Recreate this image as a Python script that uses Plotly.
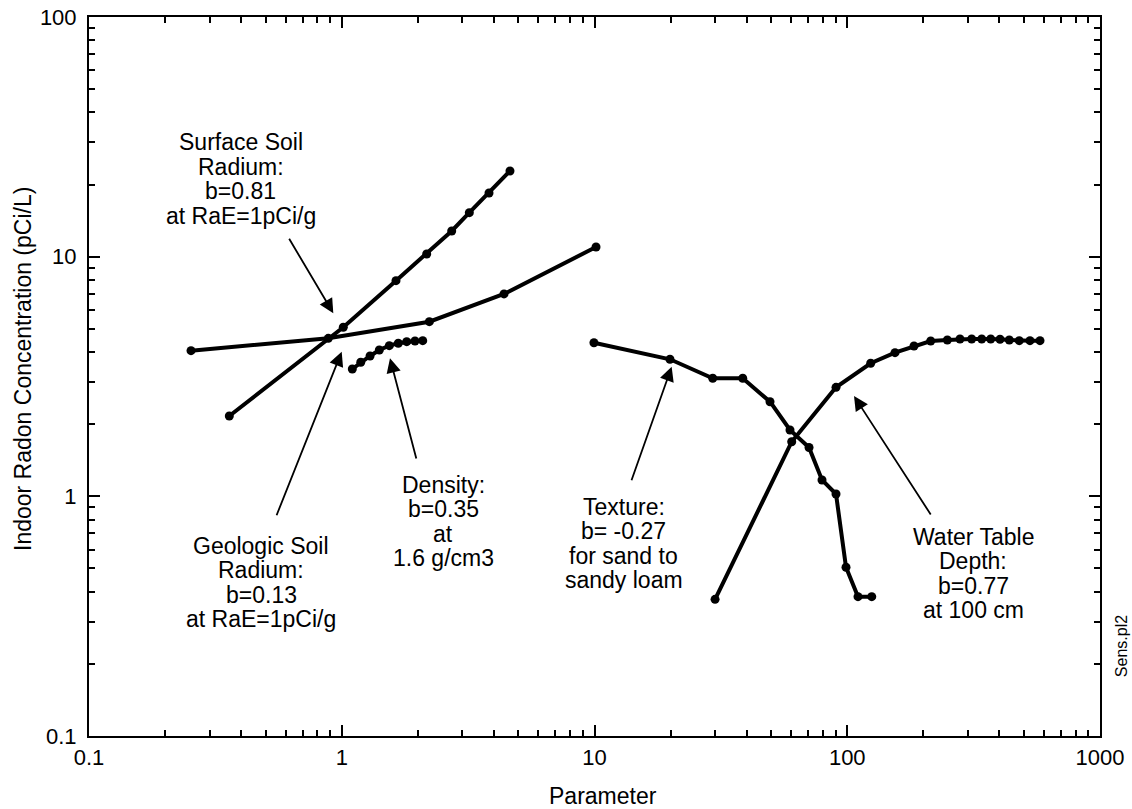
import plotly.graph_objects as go

# ---------------- data ----------------
surface_x = [0.359, 1.014, 1.639, 2.168, 2.723, 3.197, 3.825, 4.63]
surface_y = [2.164, 5.074, 7.94, 10.26, 12.80, 15.26, 18.44, 22.77]

geologic_x = [0.2533, 0.8847, 2.221, 4.385, 10.14]
geologic_y = [4.054, 4.564, 5.354, 6.99, 10.97]

density_x = [1.101, 1.189, 1.294, 1.408, 1.542, 1.674, 1.807, 1.949, 2.091]
density_y = [3.399, 3.625, 3.851, 4.080, 4.252, 4.351, 4.419, 4.448, 4.462]

texture_x = [9.95, 19.89, 29.36, 38.59, 49.48, 59.36, 70.59, 79.46, 90.27, 98.88, 110.3, 125.0]
texture_y = [4.375, 3.731, 3.108, 3.108, 2.482, 1.891, 1.599, 1.170, 1.023, 0.5058, 0.3813, 0.3813]

water_x = [29.99, 60.29, 90.27, 123.8, 154.5, 183.7, 213.9, 248.9, 279.3, 310.7, 340.4,
           369.5, 402.2, 437.7, 479.4, 528.4, 578.9]
water_y = [0.3718, 1.690, 2.850, 3.591, 3.975, 4.240, 4.448, 4.491, 4.535, 4.535, 4.535,
           4.535, 4.521, 4.491, 4.462, 4.462, 4.462]

x_tick_vals = [0.1, 1, 10, 100, 1000]
x_tick_text = ["0.1", "1", "10", "100", "1000"]
y_tick_vals = [0.1, 1, 10, 100]
y_tick_text = ["0.1", "1", "10", "100"]

labels = {
    "surface": ["Surface Soil", "Radium:", "b=0.81", "at RaE=1pCi/g"],
    "geologic": ["Geologic Soil", "Radium:", "b=0.13", "at RaE=1pCi/g"],
    "density": ["Density:", "b=0.35", "at", "1.6 g/cm3"],
    "texture": ["Texture:", "b= -0.27", "for sand to", "sandy loam"],
    "water": ["Water Table", "Depth:", "b=0.77", "at 100 cm"],
}

FONT = "Liberation Sans, Arial, sans-serif"

fig = go.Figure()
for xs, ys in [(surface_x, surface_y), (geologic_x, geologic_y), (density_x, density_y),
               (texture_x, texture_y), (water_x, water_y)]:
    fig.add_trace(go.Scatter(
        x=xs, y=ys, mode="lines+markers",
        line=dict(color="black", width=4),
        marker=dict(color="black", size=9, symbol="circle"),
        showlegend=False, hoverinfo="skip",
    ))

annotations = []

# text blocks: (key, centre log10 x, first-line log10 y)
blocks = [
    ("surface", -0.4006, 1.4772),
    ("geologic", -0.3195, -0.2072),
    ("density", 0.4006, 0.0473),
    ("texture", 1.1155, -0.0432),
    ("water", 2.4987, -0.1684),
]
LINE_STEP = 0.1022  # log10 units between lines
for key, lx, ly in blocks:
    for i, line in enumerate(labels[key]):
        annotations.append(dict(
            x=lx, y=ly - i * LINE_STEP, xref="x", yref="y",
            text=line, showarrow=False, xanchor="center", yanchor="middle",
            font=dict(family=FONT, size=23, color="black"),
        ))

# arrows: (head lx, head ly, tail lx, tail ly)
arrows = [
    (-0.0334, 0.7637, -0.2115, 1.0808),
    (-0.0002, 0.6035, -0.2601, -0.085),
    (0.1909, 0.576, 0.2965, 0.1516),
    (1.3054, 0.5409, 1.1444, 0.0611),
    (2.0267, 0.4187, 2.3341, -0.082),
]
for hx, hy, tx, ty in arrows:
    annotations.append(dict(
        x=hx, y=hy, xref="x", yref="y", ax=tx, ay=ty, axref="x", ayref="y",
        text="", showarrow=True, arrowhead=2, arrowsize=1.6, arrowwidth=1.8,
        arrowcolor="black", standoff=0, startstandoff=0,
    ))

# axis titles and side label
annotations.append(dict(
    x=0.5084, y=-0.0834, xref="paper", yref="paper", text="Parameter",
    showarrow=False, xanchor="center", yanchor="middle",
    font=dict(family=FONT, size=23, color="black"),
))
annotations.append(dict(
    x=-0.0653, y=0.5104, xref="paper", yref="paper",
    text="Indoor Radon Concentration (pCi/L)", textangle=-90,
    showarrow=False, xanchor="center", yanchor="middle",
    font=dict(family=FONT, size=23, color="black"),
))
annotations.append(dict(
    x=1.0208, y=0.125, xref="paper", yref="paper", text="Sens.pl2", textangle=-90,
    showarrow=False, xanchor="center", yanchor="middle",
    font=dict(family=FONT, size=16, color="black"),
))

minor_x = [m * 10 ** e for e in (-1, 0, 1, 2) for m in range(2, 10)]
minor_y = [m * 10 ** e for e in (-1, 0, 1) for m in range(2, 10)]

axis_common = dict(
    type="log", showgrid=False, zeroline=False,
    showline=True, linecolor="black", linewidth=2, mirror="allticks",
    ticks="inside", ticklen=11, tickwidth=2, tickcolor="black",
    tickfont=dict(family=FONT, size=22, color="black"),
    tickmode="array",
)

fig.update_layout(
    width=1132, height=809,
    margin=dict(l=89, r=32, t=17, b=73, autoexpand=False),
    paper_bgcolor="white", plot_bgcolor="white",
    showlegend=False,
    annotations=annotations,
    xaxis=dict(
        **axis_common, range=[-1, 3], tickvals=x_tick_vals, ticktext=x_tick_text,
        ticklabelstandoff=1,
        minor=dict(tickmode="array", tickvals=minor_x, ticks="inside", ticklen=6,
                   tickwidth=2, tickcolor="black", showgrid=False),
    ),
    yaxis=dict(
        **axis_common, range=[-1, 2], tickvals=y_tick_vals, ticktext=y_tick_text,
        ticklabelstandoff=6,
        minor=dict(tickmode="array", tickvals=minor_y, ticks="inside", ticklen=6,
                   tickwidth=2, tickcolor="black", showgrid=False),
    ),
)

fig.write_html("out.html", config={"displayModeBar": False, "staticPlot": True})

# remove the browser's default body margin so the figure sits at the page origin
with open("out.html", "r", encoding="utf-8") as fh:
    page = fh.read()
page = page.replace("<body>", '<body style="margin:0;padding:0;overflow:hidden">', 1)
with open("out.html", "w", encoding="utf-8") as fh:
    fh.write(page)
